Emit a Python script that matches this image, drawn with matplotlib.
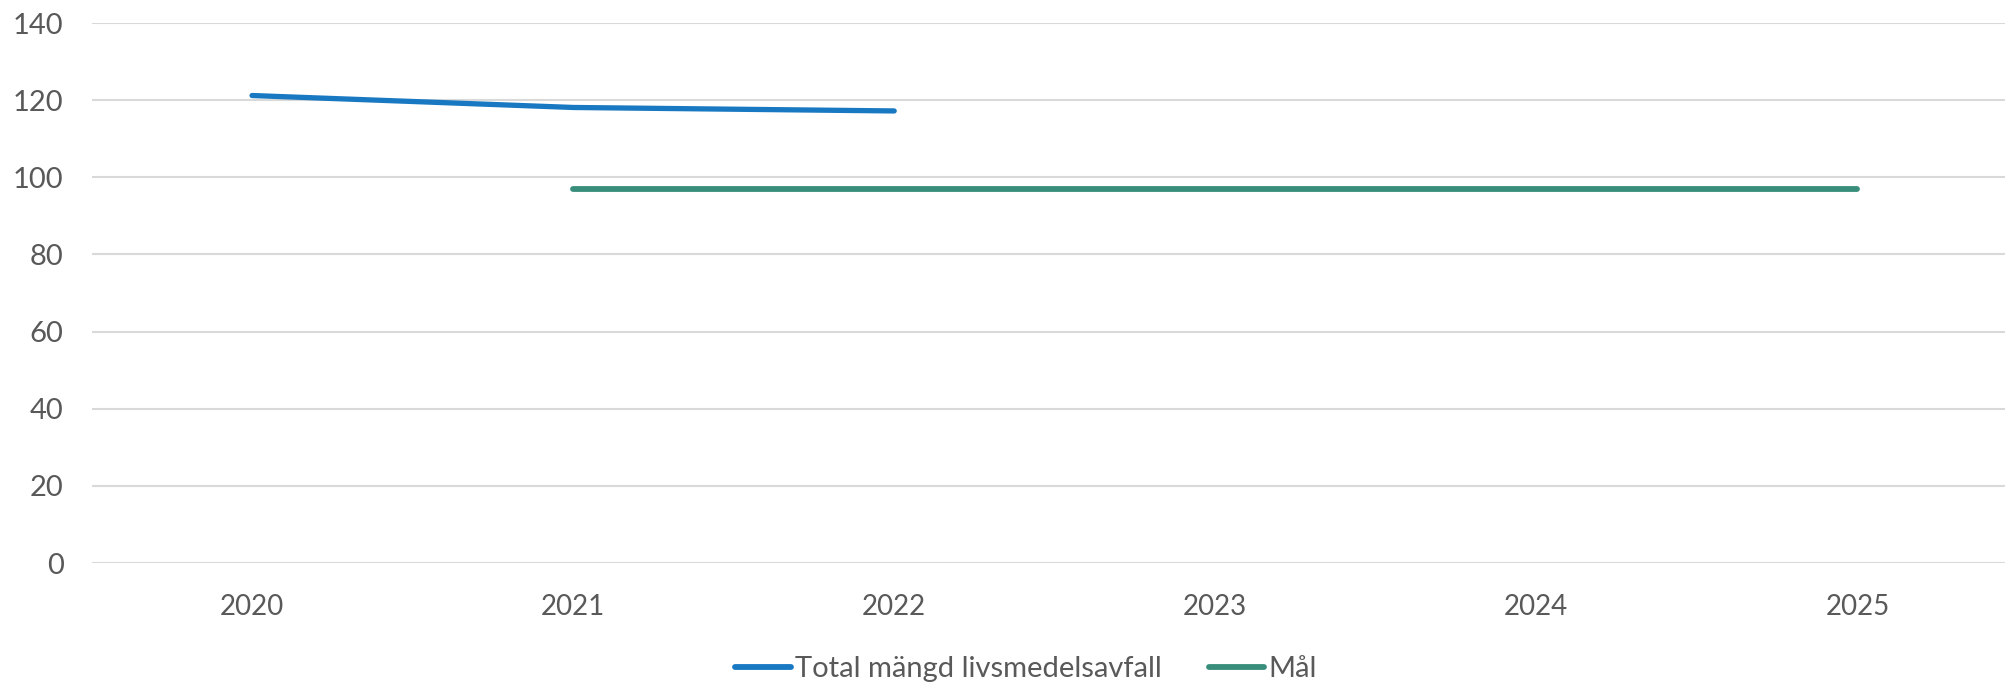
import matplotlib
matplotlib.use("Agg")
import matplotlib.pyplot as plt
from matplotlib.lines import Line2D

years = ["2020", "2021", "2022", "2023", "2024", "2025"]
total_years = ["2020", "2021", "2022"]
total_values = [121.2, 118.1, 117.2]
goal_years = ["2021", "2022", "2023", "2024", "2025"]
goal_values = [97, 97, 97, 97, 97]
yticks = [0, 20, 40, 60, 80, 100, 120, 140]

plt.rcParams['font.family'] = ['Lato', 'DejaVu Sans']
W, H = 2006, 684
fig = plt.figure(figsize=(W / 100, H / 100), dpi=100)
left, right = 91.5, 2018
top, bottom = 23, 563
ax = fig.add_axes([left / W, 1 - bottom / H, (right - left) / W, (bottom - top) / H])

blue = "#1878C1"
green = "#398E7B"
txt = "#595959"

idx = {y: i for i, y in enumerate(years)}
ax.plot([idx[y] for y in total_years], total_values, color=blue, lw=3.8,
        solid_capstyle="round", zorder=3)
ax.plot([idx[y] for y in goal_years], goal_values, color=green, lw=4.2,
        solid_capstyle="round", zorder=3)

ax.set_xlim(-0.5, len(years) - 0.5)
ax.set_ylim(0, 140)
ax.set_yticks(yticks)
ax.set_yticklabels([str(v) for v in yticks])
ax.set_xticks(range(len(years)))
ax.set_xticklabels(years)
ax.grid(axis="y", color="#D9D9D9", lw=1.5)
ax.set_axisbelow(True)
for s in ax.spines.values():
    s.set_visible(False)
ax.tick_params(axis="both", length=0, labelsize=20, labelcolor=txt)
ax.tick_params(axis="y", labelsize=21, pad=20)
ax.tick_params(axis="x", pad=22)

handles = [Line2D([], [], color=blue, lw=4.2, solid_capstyle="round"),
           Line2D([], [], color=green, lw=4.2, solid_capstyle="round")]
leg = fig.legend(handles, ["Total mängd livsmedelsavfall", "Mål"],
                 loc="center", bbox_to_anchor=(1026 / W, 1 - 669 / H),
                 ncol=2, frameon=False, fontsize=21, labelcolor=txt,
                 handlelength=1.9, handletextpad=0.15, columnspacing=1.6)

fig.savefig("out.png", dpi=100)
